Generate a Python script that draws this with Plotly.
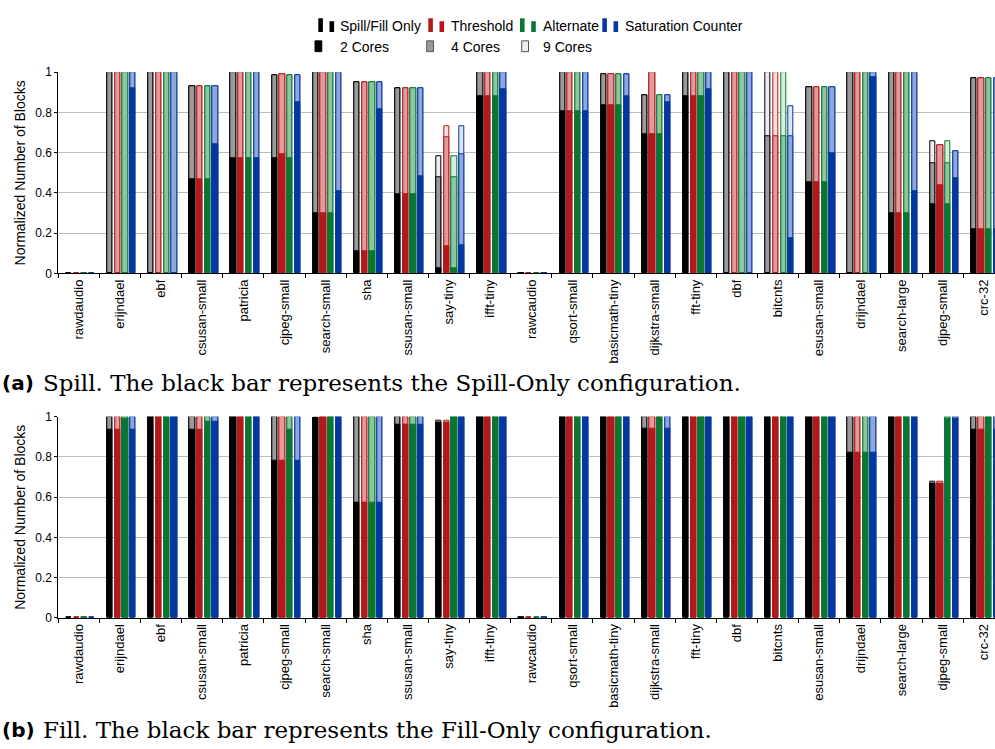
import plotly.graph_objects as go

benchmarks = ["rawdaudio", "erijndael", "ebf", "csusan-small", "patricia", "cjpeg-small",
              "search-small", "sha", "ssusan-small", "say-tiny", "ifft-tiny", "rawcaudio",
              "qsort-small", "basicmath-tiny", "dijkstra-small", "fft-tiny", "dbf", "bitcnts",
              "esusan-small", "drijndael", "search-large", "djpeg-small", "crc-32"]

config_names = ["Spill/Fill Only", "Threshold", "Alternate", "Saturation Counter"]
core_names = ["2 Cores", "4 Cores", "9 Cores"]
y_ticks = [0, 0.2, 0.4, 0.6, 0.8, 1]
y_tick_text = ["0", "0.2", "0.4", "0.6", "0.8", "1"]
y_title = "Normalized Number of Blocks"

# ---------------- (a) Spill ----------------
spill_only_2 = [0, 0, 0, 0.47, 0.575, 0.575, 0.298, 0.11, 0.395, 0.028, 0.883, 0,
                0.808, 0.837, 0.691, 0.883, 0, 0, 0.455, 0, 0.298, 0.345, 0.22]
spill_only_4 = [0, 1, 1, 0.93, 1, 0.984, 1, 0.951, 0.919, 0.48, 1, 0,
                1, 0.992, 0.886, 1, 1, 0.683, 0.927, 1, 1, 0.55, 0.972]
spill_only_9 = [0, 1, 1, 0.93, 1, 0.984, 1, 0.951, 0.919, 0.582, 1, 0,
                1, 0.992, 0.886, 1, 1, 1, 0.927, 1, 1, 0.659, 0.972]

spill_thr_2 = [0, 0, 0, 0.47, 0.575, 0.59, 0.298, 0.11, 0.395, 0.133, 0.883, 0,
               0.808, 0.837, 0.691, 0.883, 0, 0, 0.455, 0, 0.298, 0.436, 0.22]
spill_thr_4 = [0, 1, 1, 0.93, 1, 0.99, 1, 0.951, 0.919, 0.675, 1, 0,
               1, 0.992, 1, 1, 1, 0.683, 0.927, 1, 1, 0.639, 0.972]
spill_thr_9 = [0, 1, 1, 0.93, 1, 0.99, 1, 0.951, 0.919, 0.733, 1, 0,
               1, 0.992, 1, 1, 1, 1, 0.927, 1, 1, 0.639, 0.972]

spill_alt_2 = [0, 0, 0, 0.47, 0.575, 0.575, 0.298, 0.11, 0.395, 0.028, 0.883, 0,
               0.808, 0.837, 0.691, 0.883, 0, 0, 0.455, 0, 0.298, 0.345, 0.22]
spill_alt_4 = [0, 1, 1, 0.93, 1, 0.984, 1, 0.951, 0.919, 0.48, 1, 0,
               1, 0.992, 0.886, 1, 1, 0.683, 0.927, 1, 1, 0.55, 0.972]
spill_alt_9 = [0, 1, 1, 0.93, 1, 0.984, 1, 0.951, 0.919, 0.582, 1, 0,
               1, 0.992, 0.886, 1, 1, 1, 0.927, 1, 1, 0.659, 0.972]

spill_sat_2 = [0, 0.92, 0, 0.64, 0.575, 0.85, 0.407, 0.816, 0.485, 0.138, 0.915, 0,
               0.808, 0.883, 0.849, 0.915, 0, 0.174, 0.597, 0.976, 0.407, 0.472, 0.22]
spill_sat_4 = [0, 1, 1, 0.93, 1, 0.984, 1, 0.951, 0.919, 0.592, 1, 0,
               1, 0.992, 0.886, 1, 1, 0.683, 0.927, 1, 1, 0.605, 0.972]
spill_sat_9 = [0, 1, 1, 0.93, 1, 0.984, 1, 0.951, 0.919, 0.733, 1, 0,
               1, 0.992, 0.886, 1, 1, 0.829, 0.927, 1, 1, 0.605, 0.972]

# ---------------- (b) Fill ----------------
fill_only_2 = [0, 0.935, 1, 0.935, 1, 0.78, 0.995, 0.572, 0.96, 0.97, 1, 0,
               1, 1, 0.94, 1, 1, 1, 1, 0.82, 1, 0.667, 0.933]
fill_only_4 = [0, 1, 1, 1, 1, 1, 0.995, 1, 1, 0.97, 1, 0,
               1, 1, 1, 1, 1, 1, 1, 1, 1, 0.667, 1]
fill_only_9 = [0, 1, 1, 1, 1, 1, 0.995, 1, 1, 0.979, 1, 0,
               1, 1, 1, 1, 1, 1, 1, 1, 1, 0.678, 1]

fill_thr_2 = [0, 0.935, 1, 0.935, 1, 0.78, 1, 0.572, 0.96, 0.97, 1, 0,
              1, 1, 0.94, 1, 1, 1, 1, 0.82, 1, 0.667, 0.933]
fill_thr_4 = [0, 1, 1, 1, 1, 1, 1, 1, 1, 0.97, 1, 0,
              1, 1, 1, 1, 1, 1, 1, 1, 1, 0.667, 1]
fill_thr_9 = [0, 1, 1, 1, 1, 1, 1, 1, 1, 0.979, 1, 0,
              1, 1, 1, 1, 1, 1, 1, 1, 1, 0.678, 1]

fill_alt_2 = [0, 0.99, 1, 0.976, 1, 0.935, 1, 0.572, 0.96, 1, 1, 0,
              1, 1, 1, 1, 1, 1, 1, 0.82, 1, 0.99, 1]
fill_alt_4 = [0, 1, 1, 1, 1, 1, 1, 1, 1, 1, 1, 0,
              1, 1, 1, 1, 1, 1, 1, 1, 1, 1, 1]
fill_alt_9 = [0, 1, 1, 1, 1, 1, 1, 1, 1, 1, 1, 0,
              1, 1, 1, 1, 1, 1, 1, 1, 1, 1, 1]

fill_sat_2 = [0, 0.935, 1, 0.976, 1, 0.78, 1, 0.572, 0.96, 1, 1, 0,
              1, 1, 0.94, 1, 1, 1, 1, 0.82, 1, 0.99, 0.933]
fill_sat_4 = [0, 1, 1, 1, 1, 1, 1, 1, 1, 1, 1, 0,
              1, 1, 1, 1, 1, 1, 1, 1, 1, 1, 1]
fill_sat_9 = [0, 1, 1, 1, 1, 1, 1, 1, 1, 1, 1, 0,
              1, 1, 1, 1, 1, 1, 1, 1, 1, 1, 1]

spill_series = [(spill_only_2, spill_only_4, spill_only_9),
                (spill_thr_2, spill_thr_4, spill_thr_9),
                (spill_alt_2, spill_alt_4, spill_alt_9),
                (spill_sat_2, spill_sat_4, spill_sat_9)]
fill_series = [(fill_only_2, fill_only_4, fill_only_9),
               (fill_thr_2, fill_thr_4, fill_thr_9),
               (fill_alt_2, fill_alt_4, fill_alt_9),
               (fill_sat_2, fill_sat_4, fill_sat_9)]

# ---------------- styling ----------------
W, H = 995, 749
# (dark = 2 cores, medium = 4 cores, light = 9 cores)
palette = [("#000000", "#9a9a9a", "#eeeeee"),
           ("#b3181b", "#e39a9b", "#f8dede"),
           ("#0a7634", "#8fc4a0", "#d9eedf"),
           ("#0537a0", "#8fa7dd", "#dde5f7")]
BAR_W = 0.128
centers = [-0.243, -0.056, 0.131, 0.318]

PLOT_L = 58.3
GROUP_PX = 41.13
x_range = [-0.5, -0.5 + (W - PLOT_L) / GROUP_PX]


def fx(px):
    return px / W


def fy(py):
    return 1 - py / H


fig = go.Figure()

for series, xa, ya in [(spill_series, "x", "y"), (fill_series, "x2", "y2")]:
    for layer in (2, 1, 0):  # 9 cores behind, then 4 cores, then 2 cores
        for ci, trip in enumerate(series):
            fig.add_trace(go.Bar(
                x=benchmarks, y=trip[layer], xaxis=xa, yaxis=ya,
                width=BAR_W, offset=centers[ci] - BAR_W / 2,
                marker=dict(color=palette[ci][layer],
                            line=dict(color=palette[ci][0], width=1)),
                name=f"{config_names[ci]} - {core_names[layer]}",
                showlegend=False, hoverinfo="x+y"))

SANS = "Liberation Sans, Arial, sans-serif"
xcommon = dict(type="category", range=x_range, tickson="boundaries", ticks="outside",
               ticklen=4, tickcolor="#000", tickwidth=1, showline=True, linecolor="#000",
               linewidth=1, showgrid=False, tickangle=-90,
               tickfont=dict(family=SANS, size=13, color="#000"),
               domain=[fx(PLOT_L), 1], fixedrange=True)
ycommon = dict(range=[0, 1], tickvals=y_ticks, ticktext=y_tick_text,
               ticks="outside", ticklen=3, tickcolor="#000", showline=True, linecolor="#000",
               linewidth=1, showgrid=True, gridcolor="#bdbdbd", gridwidth=1, zeroline=False,
               tickfont=dict(family=SANS, size=12, color="#000"),
               title=dict(text=y_title, font=dict(family=SANS, size=14, color="#000"),
                          standoff=6),
               fixedrange=True)

fig.update_layout(
    width=W, height=H,
    margin=dict(l=0, r=0, t=0, b=0),
    paper_bgcolor="white", plot_bgcolor="white",
    barmode="overlay", bargap=0,
    xaxis=dict(xcommon, anchor="y"),
    yaxis=dict(ycommon, anchor="x", domain=[fy(271.5), fy(66.5)]),
    xaxis2=dict(xcommon, anchor="y2"),
    yaxis2=dict(ycommon, anchor="x2", domain=[fy(622.5), fy(417.5)]),
)

shapes = []
annotations = []
leg_font = dict(family=SANS, size=14, color="#000")

# legend row 1: configurations, two dark swatches each
row1 = [(318.3, 338.0), (428.3, 449.0), (520.0, 541.0), (602.3, 623.3)]
for ci, (sx, tx) in enumerate(row1):
    col = palette[ci][0]
    shapes.append(dict(type="rect", xref="paper", yref="paper",
                       x0=fx(sx), x1=fx(sx + 4.6), y0=fy(25.5), y1=fy(11.5),
                       fillcolor=col, line=dict(width=0)))
    shapes.append(dict(type="rect", xref="paper", yref="paper",
                       x0=fx(sx + 11.2), x1=fx(sx + 15.8), y0=fy(25.5), y1=fy(14.5),
                       fillcolor=col, line=dict(width=0)))
    annotations.append(dict(text=config_names[ci], xref="paper", yref="paper",
                            x=fx(tx), y=fy(19), xanchor="left", yanchor="middle",
                            showarrow=False, font=leg_font))

# legend row 2: core counts
row2 = [(315.0, 338.3, "#000000", "#000000"), (426.7, 449.0, "#9a9a9a", "#555555"),
        (521.7, 540.7, "#eeeeee", "#555555")]
for ki, (sx, tx, fc, lc) in enumerate(row2):
    shapes.append(dict(type="rect", xref="paper", yref="paper",
                       x0=fx(sx), x1=fx(sx + 6.8), y0=fy(45.5), y1=fy(34.5),
                       fillcolor=fc, line=dict(color=lc, width=1)))
    annotations.append(dict(text=core_names[ki], xref="paper", yref="paper",
                            x=fx(tx), y=fy(40.5), xanchor="left", yanchor="middle",
                            showarrow=False, font=leg_font))

# captions
cap_serif = dict(family="DejaVu Serif, serif", size=23, color="#000")
cap_bold = dict(family="DejaVu Sans, sans-serif", size=20, color="#000")
for py, tag, txt in [(383, "(a)", "Spill. The black bar represents the Spill-Only configuration."),
                     (737, "(b)", "Fill. The black bar represents the Fill-Only configuration.")]:
    annotations.append(dict(text=f"<b>{tag}</b>", xref="paper", yref="paper", x=0, y=fy(py),
                            xanchor="left", yanchor="middle", showarrow=False, font=cap_bold))
    annotations.append(dict(text=txt, xref="paper", yref="paper", x=fx(41), y=fy(py),
                            xanchor="left", yanchor="middle", showarrow=False, font=cap_serif))

fig.update_layout(shapes=shapes, annotations=annotations)
fig.write_html("out.html", config={"displayModeBar": False},
               post_script="document.body.style.margin='0';document.body.style.overflow='hidden';")
